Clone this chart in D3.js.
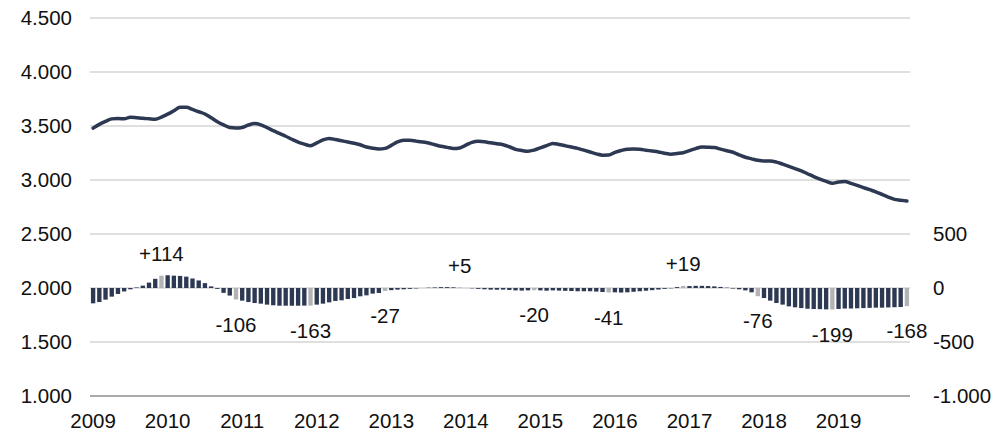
<!DOCTYPE html>
<html>
<head>
<meta charset="utf-8">
<script src="https://cdn.jsdelivr.net/npm/d3@7"></script>
<style>
  html, body { margin: 0; padding: 0; background: #fff; }
  svg { display: block; font-family: "Liberation Sans", Arial, sans-serif; }
</style>
</head>
<body>
<svg id="chart" width="995" height="431"></svg>
<script>
// years shown on the category axis, one band per month
const years = [2009, 2010, 2011, 2012, 2013, 2014, 2015, 2016, 2017, 2018, 2019];

// monthly level (left axis)
const lineValues = [
  3480, 3515, 3543, 3566, 3570, 3566, 3582, 3577, 3571, 3567, 3563, 3582,
  3610, 3641, 3673, 3673, 3653, 3632, 3611, 3576, 3540, 3511, 3486, 3482,
  3487, 3509, 3522, 3511, 3485, 3457, 3431, 3405, 3377, 3351, 3332, 3317,
  3343, 3371, 3385, 3375, 3363, 3352, 3340, 3326, 3305, 3294, 3288, 3293,
  3321, 3352, 3367, 3368, 3360, 3352, 3342, 3327, 3312, 3302, 3292, 3297,
  3323, 3349, 3358, 3354, 3344, 3335, 3327, 3308, 3284, 3273, 3266, 3277,
  3298, 3318, 3339, 3329, 3317, 3305, 3293, 3276, 3259, 3242, 3230, 3231,
  3256, 3273, 3285, 3286, 3284, 3276, 3268, 3260, 3248, 3239, 3245, 3253,
  3272, 3291, 3306, 3304, 3300, 3286, 3271, 3257, 3233, 3211, 3196, 3182,
  3176, 3176, 3166, 3147, 3127, 3106, 3084, 3058, 3032, 3008, 2988, 2969,
  2982, 2987, 2969, 2950, 2930, 2910, 2891, 2866, 2842, 2821, 2813, 2805,
];

// monthly change vs. same month a year earlier (right axis)
const changeValues = [
  -142, -130, -108, -80, -55, -32, -12, 5, 22, 50, 85, 114,
  118, 114, 112, 105, 88, 70, 45, 15, -8, -45, -70, -106,
  -117, -130, -139, -145, -154, -160, -164, -164, -164, -164, -163, -163,
  -154, -145, -133, -120, -114, -102, -93, -77, -68, -52, -46, -27,
  -20, -15, -12, -8, -4, 0, 3, 5, 8, 8, 6, 5,
  0, -3, -8, -12, -15, -16, -15, -18, -22, -24, -22, -20,
  -22, -25, -22, -24, -26, -28, -30, -30, -30, -33, -37, -41,
  -40, -42, -40, -35, -30, -25, -20, -14, -8, -3, 8, 19,
  18, 20, 20, 18, 15, 10, 3, -5, -12, -22, -40, -76,
  -93, -117, -139, -154, -170, -179, -186, -192, -195, -196, -198, -199,
  -194, -190, -190, -188, -186, -184, -182, -182, -180, -178, -176, -168,
];

const leftTicks = [1000, 1500, 2000, 2500, 3000, 3500, 4000, 4500];
const rightTicks = [-1000, -500, 0, 500];

const locale = d3.formatLocale({
  decimal: ',',
  thousands: '.',
  grouping: [3],
  currency: ['', ''],
  minus: '-',
});
const fmtAxis = locale.format(',');
const fmtChange = locale.format('+,');

const margin = { top: 18, right: 85, bottom: 35, left: 90 };
const svgWidth = 995;
const svgHeight = 431;
const plotRight = svgWidth - margin.right;
const plotBottom = svgHeight - margin.bottom;

const months = d3.range(lineValues.length);
const data = months.map(i => ({
  i,
  level: lineValues[i],
  change: changeValues[i],
  yearEnd: i % 12 === 11,
}));

const x = d3.scaleBand()
  .domain(months)
  .range([margin.left, plotRight])
  .paddingInner(0.3)
  .paddingOuter(0.15);
const cx = i => x(i) + x.bandwidth() / 2;

const yLeft = d3.scaleLinear().domain([1000, 4500]).range([plotBottom, margin.top]);
const yRight = d3.scaleLinear().domain([-1000, 2500]).range([plotBottom, margin.top]);

const svg = d3.select('#chart');
const fontSize = '20.5px';
const textColor = '#111';
const navy = '#2d3852';

// gridlines
svg.append('g')
  .selectAll('line')
  .data(leftTicks.filter(t => t !== 1000))
  .join('line')
    .attr('x1', margin.left)
    .attr('x2', plotRight)
    .attr('y1', d => yLeft(d))
    .attr('y2', d => yLeft(d))
    .attr('stroke', '#d4d4d4')
    .attr('stroke-width', 1.5);

// bars
svg.append('g')
  .selectAll('rect')
  .data(data)
  .join('rect')
    .attr('x', d => x(d.i))
    .attr('width', x.bandwidth())
    .attr('y', d => yRight(Math.max(0, d.change)))
    .attr('height', d => Math.abs(yRight(d.change) - yRight(0)))
    .attr('fill', d => d.yearEnd ? '#b3b3b3' : navy);

// bottom axis line
svg.append('line')
  .attr('x1', margin.left)
  .attr('x2', plotRight)
  .attr('y1', yLeft(1000))
  .attr('y2', yLeft(1000))
  .attr('stroke', '#8f8f8f')
  .attr('stroke-width', 1.5);

// level line
const line = d3.line()
  .x(d => cx(d.i))
  .y(d => yLeft(d.level))
  .curve(d3.curveMonotoneX);

svg.append('path')
  .datum(data)
  .attr('fill', 'none')
  .attr('stroke', navy)
  .attr('stroke-width', 3.5)
  .attr('stroke-linejoin', 'round')
  .attr('stroke-linecap', 'round')
  .attr('d', line);

// year-end change labels
svg.append('g')
  .selectAll('text')
  .data(data.filter(d => d.yearEnd))
  .join('text')
    .attr('x', d => cx(d.i))
    .attr('y', d => d.change >= 0 ? yRight(d.change) - 22 : yRight(d.change) + 25)
    .attr('dy', '0.35em')
    .attr('text-anchor', 'middle')
    .attr('fill', textColor)
    .style('font-size', fontSize)
    .text(d => fmtChange(d.change));

// axes
const styleAxis = g => {
  g.select('.domain').remove();
  g.selectAll('.tick line').remove();
  g.selectAll('text')
    .attr('fill', textColor)
    .style('font-size', fontSize)
    .style('font-family', '"Liberation Sans", Arial, sans-serif');
};

svg.append('g')
    .attr('transform', `translate(${margin.left},0)`)
    .call(d3.axisLeft(yLeft).tickValues(leftTicks).tickFormat(fmtAxis).tickSize(0).tickPadding(18))
    .call(styleAxis);

svg.append('g')
    .attr('transform', `translate(${plotRight},0)`)
    .call(d3.axisRight(yRight).tickValues(rightTicks).tickFormat(fmtAxis).tickSize(0).tickPadding(23))
    .call(styleAxis)
    .selectAll('text')
      .attr('text-anchor', 'start');

svg.append('g')
    .attr('transform', `translate(0,${plotBottom})`)
    .call(d3.axisBottom(x)
      .tickValues(months.filter(i => i % 12 === 0))
      .tickFormat(i => years[i / 12])
      .tickSize(0)
      .tickPadding(17))
    .call(styleAxis);
</script>
</body>
</html>
